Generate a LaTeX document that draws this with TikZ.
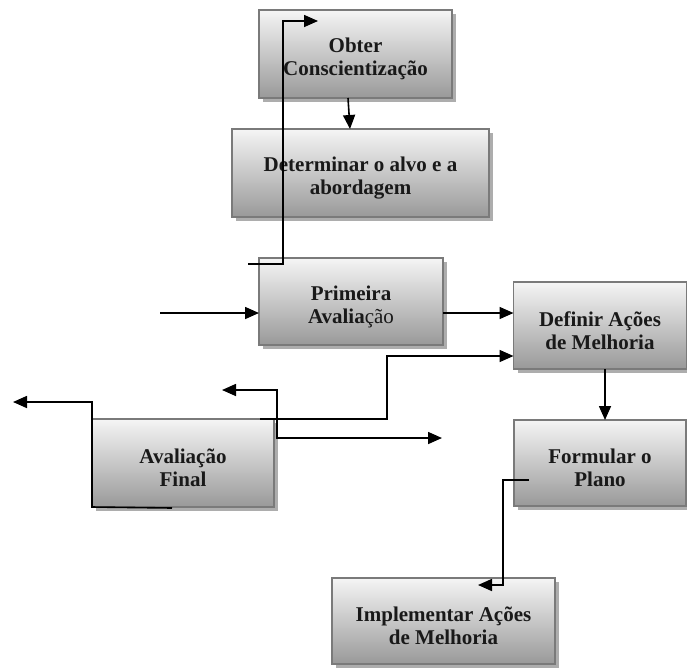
\documentclass[tikz,border=0pt]{standalone}
\usepackage{fontspec}
\setmainfont{Liberation Serif}
\usetikzlibrary{arrows.meta,shadows}
% invisible strut that lowers the first line of each label
\newcommand{\labelpad}{\rule{0pt}{25pt}}
\begin{document}
\begin{tikzpicture}[x=1pt,y=-1pt,
  stagebox/.style={draw=black!52, line width=1.8pt, outer sep=0pt, inner sep=2pt,
    top color=black!4, bottom color=black!40, align=center, text=black!90,
    font=\bfseries\fontsize{21}{23}\selectfont,
    drop shadow={shadow xshift=4pt,shadow yshift=-4pt,fill=black!32,opacity=1}},
  link/.style={line width=1.6pt, draw=black},
  arr/.style={link, -{Triangle[length=14pt,width=12pt]}}]
\useasboundingbox (0,0) rectangle (687,667);

% process stages
\node[stagebox, minimum width=193pt, minimum height=88pt] (obter) at (355.5,54) {\labelpad Obter\\Conscientização};
\node[stagebox, minimum width=257pt, minimum height=88pt] (determinar) at (360.5,173) {\labelpad Determinar o alvo e a\\abordagem};
\node[stagebox, minimum width=184pt, minimum height=87pt] (primeira) at (351,301.5) {\labelpad Primeira\\Avalia\mdseries ção};
\node[stagebox, minimum width=173pt, minimum height=87pt] (definir) at (600,325.5) {\labelpad Definir Ações\\de Melhoria};
\node[stagebox, minimum width=172pt, minimum height=86pt] (formular) at (600,463) {\labelpad Formular o\\Plano};
\node[stagebox, minimum width=182pt, minimum height=88pt] (final) at (183,463) {\labelpad Avaliação\\Final};
\node[stagebox, minimum width=223pt, minimum height=86pt] (implementar) at (443.5,621) {\labelpad Implementar Ações\\de Melhoria};

% free ends and bends
\coordinate (loopstart) at (248,264);
\coordinate (loopbend) at (283,264);
\coordinate (looptip) at (318,21);
\coordinate (entry) at (160,313);
\coordinate (riser) at (387,356);
\coordinate (planstart) at (529,480);
\coordinate (planbend) at (503,480);
\coordinate (plantip) at (478,585);
\coordinate (exitstart) at (172,508);
\coordinate (exittip) at (13,402);
\coordinate (backtip) at (222,390);
\coordinate (backbend) at (277,390);
\coordinate (fwdtip) at (442,438);

% connectors
\draw[arr] ([xshift=-7.5pt]obter.south) -- ([xshift=-10.5pt]determinar.north);
\draw[arr] (loopstart) -- (loopbend) |- (looptip);
\draw[arr] (entry) -- (entry -| primeira.west);
\draw[arr] ([yshift=-11.5pt]primeira.east) -- ([yshift=-11.5pt]primeira.east -| definir.west);
\draw[arr] ([xshift=77pt]final.north) -| (riser) -- (riser -| definir.west);
\draw[arr] ([xshift=5pt]definir.south) -- ([xshift=5pt]formular.north);
\draw[arr] (planstart) -- (planbend) |- (plantip);
\draw[arr] (exitstart) -- (final.south west) |- (exittip);
\draw[link, {Triangle[length=14pt,width=12pt]}-{Triangle[length=14pt,width=12pt]}] (backtip) -- (backbend) |- (fwdtip);
\end{tikzpicture}
\end{document}
